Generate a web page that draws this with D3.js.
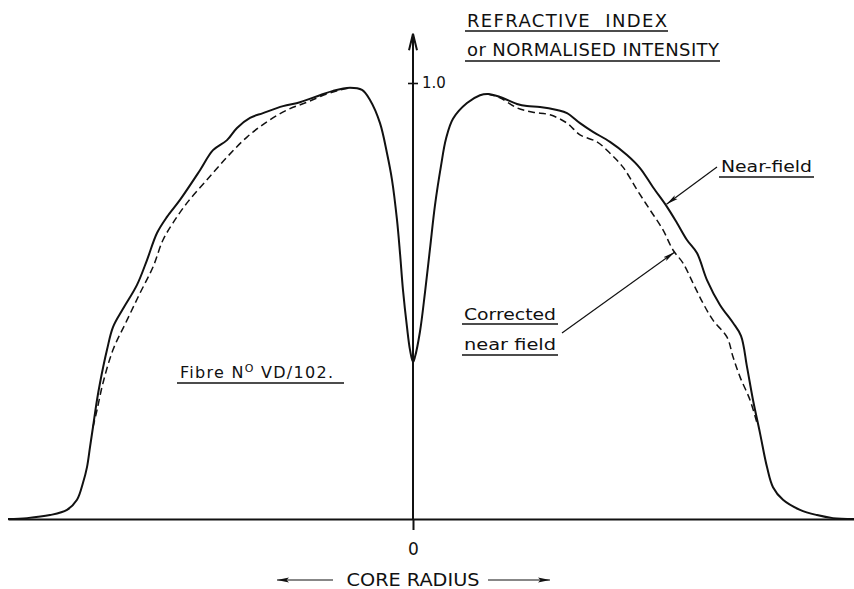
<!DOCTYPE html>
<html>
<head>
<meta charset="utf-8">
<script src="https://cdn.jsdelivr.net/npm/d3@7/dist/d3.min.js"></script>
<style>
  html, body { margin: 0; padding: 0; background: #fff; }
  svg { display: block; }
  text { font-family: "DejaVu Sans", sans-serif; fill: #111; white-space: pre; }
</style>
</head>
<body>
<svg id="chart" width="854" height="589"></svg>
<script>
// Near-field intensity across the core: [radius, normalised intensity]
const nearField = [
  [-4.05, 0.000], [-3.86, 0.002], [-3.63, 0.009], [-3.46, 0.021], [-3.36, 0.044],
  [-3.30, 0.083], [-3.26, 0.119], [-3.23, 0.165], [-3.20, 0.211], [-3.16, 0.273],
  [-3.13, 0.312], [-3.06, 0.388], [-3.00, 0.440], [-2.90, 0.482], [-2.76, 0.537],
  [-2.66, 0.594], [-2.56, 0.656], [-2.46, 0.693], [-2.33, 0.732], [-2.13, 0.800],
  [-2.00, 0.846], [-1.86, 0.869], [-1.76, 0.897], [-1.63, 0.920], [-1.50, 0.931],
  [-1.30, 0.947], [-1.13, 0.956], [-0.93, 0.972], [-0.80, 0.982], [-0.63, 0.989],
  [-0.51, 0.984], [-0.43, 0.961], [-0.33, 0.908], [-0.26, 0.839], [-0.21, 0.778],
  [-0.16, 0.686], [-0.13, 0.610], [-0.10, 0.525], [-0.06, 0.440], [-0.03, 0.388],
  [0.00, 0.360],
  [0.02, 0.372], [0.07, 0.430], [0.12, 0.520], [0.17, 0.620], [0.22, 0.720],
  [0.28, 0.810], [0.33, 0.872], [0.40, 0.918], [0.54, 0.954], [0.67, 0.972],
  [0.75, 0.975], [0.87, 0.968], [1.04, 0.952], [1.14, 0.947], [1.27, 0.945],
  [1.44, 0.938], [1.54, 0.931], [1.67, 0.908], [1.80, 0.888], [1.97, 0.865],
  [2.14, 0.835], [2.27, 0.805], [2.40, 0.761], [2.54, 0.716], [2.64, 0.679],
  [2.74, 0.640], [2.84, 0.610], [2.94, 0.548], [3.07, 0.491], [3.20, 0.450],
  [3.28, 0.420], [3.34, 0.349], [3.40, 0.273], [3.47, 0.197], [3.54, 0.119],
  [3.60, 0.073], [3.70, 0.044], [3.87, 0.021], [4.04, 0.009], [4.20, 0.002],
  [4.41, 0.000]
];

// Corrected near-field (refractive index estimate), left flank
const correctedLeft = [
  [-3.20, 0.211], [-3.16, 0.250], [-3.10, 0.312], [-3.00, 0.388], [-2.86, 0.456],
  [-2.73, 0.518], [-2.60, 0.578], [-2.50, 0.640], [-2.40, 0.679], [-2.26, 0.725],
  [-2.06, 0.778], [-1.86, 0.830], [-1.66, 0.876], [-1.46, 0.911], [-1.26, 0.938],
  [-1.06, 0.956], [-0.86, 0.975], [-0.73, 0.984], [-0.63, 0.989]
];

// Corrected near-field, right flank
const correctedRight = [
  [0.75, 0.975], [0.87, 0.966], [1.04, 0.943], [1.20, 0.933], [1.37, 0.927],
  [1.54, 0.908], [1.67, 0.881], [1.84, 0.865], [1.97, 0.839], [2.10, 0.807],
  [2.24, 0.755], [2.37, 0.709], [2.50, 0.663], [2.60, 0.617], [2.70, 0.587],
  [2.80, 0.541], [2.90, 0.495], [3.00, 0.456], [3.14, 0.417], [3.20, 0.372],
  [3.27, 0.326], [3.37, 0.273], [3.44, 0.220]
];

const xTicks = [0];
const xTickLabels = ["0"];
const yTicks = [1];
const yTickLabels = ["1.0"];

const yTitle = ["REFRACTIVE  INDEX", "or NORMALISED INTENSITY"];
const xTitle = "CORE RADIUS";
const fibreLabel = ["Fibre N", "O", " VD/102."];
const nearLabel = "Near-field";
const correctedLabel = ["Corrected", "near field"];

const svg = d3.select("#chart");
const ink = "#111";

const x = d3.scaleLinear().domain([-4.05, 4.41]).range([8, 854]);
const y = d3.scaleLinear().domain([0, 1]).range([519, 83]);

// Arrowhead marker for leader lines
const defs = svg.append("defs");
defs.append("marker")
  .attr("id", "head")
  .attr("viewBox", "0 0 12 6")
  .attr("refX", 12).attr("refY", 3)
  .attr("markerWidth", 12).attr("markerHeight", 6)
  .attr("markerUnits", "userSpaceOnUse")
  .attr("orient", "auto")
  .append("path")
  .attr("d", "M0,0.6 L12,3 L0,5.4 L2.5,3 Z")
  .attr("fill", ink);

// Horizontal axis (core radius)
const xAxis = d3.axisBottom(x)
  .tickValues(xTicks)
  .tickFormat((d, i) => xTickLabels[i])
  .tickSize(11)
  .tickSizeOuter(0)
  .tickPadding(13);
const gx = svg.append("g").attr("transform", `translate(0,${y(0)})`).call(xAxis);
gx.select(".domain").attr("stroke", ink).attr("stroke-width", 2);
gx.selectAll(".tick line").attr("stroke", ink).attr("stroke-width", 2);
gx.selectAll(".tick text").attr("font-size", 17).attr("fill", ink)
  .style("font-family", "DejaVu Sans, sans-serif");

// Vertical axis with arrow
const xc = x(0);
svg.append("line")
  .attr("x1", xc).attr("x2", xc)
  .attr("y1", y(0)).attr("y2", y(1.105))
  .attr("stroke", ink).attr("stroke-width", 2);
svg.append("path")
  .attr("d", `M${xc - 4},${y(1.075)} L${xc},${y(1.113)} L${xc + 4},${y(1.075)}`)
  .attr("fill", "none").attr("stroke", ink).attr("stroke-width", 2)
  .attr("stroke-linejoin", "miter");

const yAxis = d3.axisRight(y)
  .tickValues(yTicks)
  .tickFormat((d, i) => yTickLabels[i])
  .tickSize(5)
  .tickPadding(4);
const gy = svg.append("g").attr("transform", `translate(${xc},0)`).call(yAxis);
gy.select(".domain").remove();
gy.selectAll(".tick line").attr("x1", -5).attr("stroke", ink).attr("stroke-width", 1.6);
gy.selectAll(".tick text").attr("font-size", 15).attr("fill", ink)
  .style("font-family", "DejaVu Sans, sans-serif");

// Curves
const line = d3.line()
  .x(d => x(d[0]))
  .y(d => y(d[1]))
  .curve(d3.curveCatmullRom.alpha(0.5));

svg.append("path").datum(nearField)
  .attr("d", line)
  .attr("fill", "none").attr("stroke", ink).attr("stroke-width", 2)
  .attr("stroke-linejoin", "round");

[correctedLeft, correctedRight].forEach(series => {
  svg.append("path").datum(series)
    .attr("d", line)
    .attr("fill", "none").attr("stroke", ink).attr("stroke-width", 1.5)
    .attr("stroke-dasharray", "7,4");
});

// Labels with underlines
function label(txt, x0, base, len, size, adjust) {
  svg.append("text")
    .attr("x", x0).attr("y", base)
    .attr("font-size", size)
    .attr("textLength", len)
    .attr("lengthAdjust", adjust || "spacingAndGlyphs")
    .text(txt);
}
function underline(x0, x1, yy) {
  svg.append("line")
    .attr("x1", x0).attr("x2", x1).attr("y1", yy).attr("y2", yy)
    .attr("stroke", ink).attr("stroke-width", 1.5);
}

label(yTitle[0], 467, 27, 200, 18, "spacing");
underline(465, 668, 31);
label(yTitle[1], 467, 56, 252, 18, "spacing");
underline(465, 720, 61);

label(nearLabel, 721, 172, 91, 16);
underline(719, 814, 177);

label(correctedLabel[0], 464, 320, 92, 16);
underline(462, 558, 324);
label(correctedLabel[1], 464, 350, 92, 16);
underline(462, 558, 355);

// Fibre identification with superscript "O"
const ft = svg.append("text").attr("x", 180).attr("y", 378).attr("font-size", 16)
  .attr("textLength", 153).attr("lengthAdjust", "spacing");
ft.append("tspan").text(fibreLabel[0]);
ft.append("tspan").attr("font-size", 11).attr("dy", -6).text(fibreLabel[1]);
ft.append("tspan").attr("dy", 6).text(fibreLabel[2]);
underline(177, 344, 383);

// Leader lines pointing to each curve
function leader(x0, y0, x1, y1) {
  svg.append("line")
    .attr("x1", x0).attr("y1", y0).attr("x2", x1).attr("y2", y1)
    .attr("stroke", ink).attr("stroke-width", 1.2)
    .attr("marker-end", "url(#head)");
}
leader(717, 167, x(2.535), y(0.722));
leader(562, 333, x(2.615), y(0.612));

// Axis title with direction arrows
svg.append("text")
  .attr("x", xc).attr("y", 586)
  .attr("text-anchor", "middle")
  .attr("font-size", 17)
  .attr("textLength", 133)
  .attr("lengthAdjust", "spacingAndGlyphs")
  .text(xTitle);
leader(333, 580, 277, 580);
leader(488, 580, 550, 580);
</script>
</body>
</html>
